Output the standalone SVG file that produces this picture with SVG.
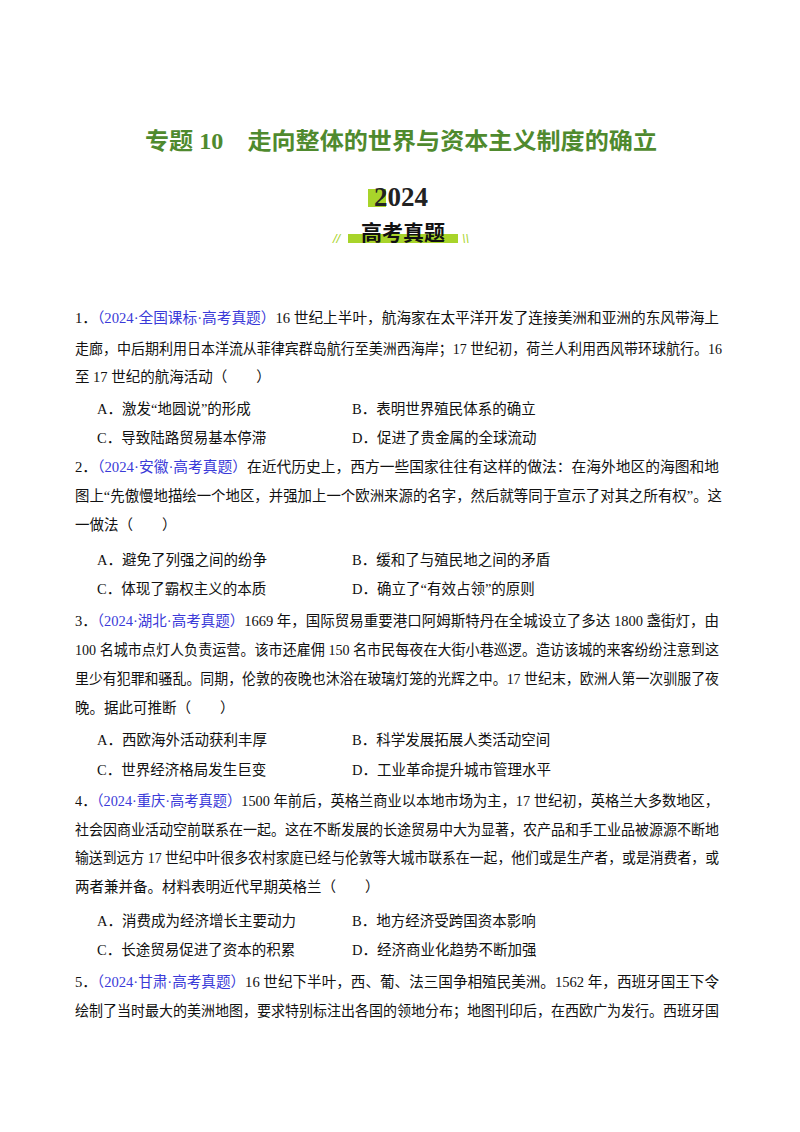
<svg xmlns="http://www.w3.org/2000/svg" width="800" height="1132" viewBox="0 0 800 1132">
<style>
.t{font-family:"Liberation Serif","Noto Sans CJK SC",serif;font-size:14.5px;fill:#111}
.b{fill:#3a3ad8}
.title{font-family:"Liberation Serif","Noto Sans CJK SC",serif;font-size:23px;font-weight:bold;fill:#4f8a2e}
</style>
<rect width="800" height="1132" fill="#fff"/>
<g id="header">
<text class="title" x="401" y="149" text-anchor="middle" textLength="512" lengthAdjust="spacingAndGlyphs">专题 10　走向整体的世界与资本主义制度的确立</text>
<rect x="368" y="189" width="18" height="18" fill="#a8d42a"/>
<text x="401" y="206" text-anchor="middle" font-family="Liberation Serif,serif" font-size="27" font-weight="bold" fill="#222">2024</text>
<rect x="348" y="234" width="110" height="9" fill="#a8d42a"/>
<text x="403" y="240" text-anchor="middle" font-family="Noto Sans CJK SC,sans-serif" font-size="21" font-weight="bold" fill="#111">高考真题</text>
<text x="333" y="243" font-family="Liberation Sans,sans-serif" font-size="13" fill="#a8d42a" font-style="italic">//</text>
<text x="462" y="243" font-family="Liberation Sans,sans-serif" font-size="13" fill="#a8d42a" font-style="italic">\\</text>
</g>
<g id="q1" class="t">
<text x="75" y="323" textLength="644" lengthAdjust="spacingAndGlyphs">1．<tspan class="b">（2024·全国课标·高考真题）</tspan>16 世纪上半叶，航海家在太平洋开发了连接美洲和亚洲的东风带海上</text>
<text x="75" y="354" textLength="647" lengthAdjust="spacingAndGlyphs">走廊，中后期利用日本洋流从菲律宾群岛航行至美洲西海岸；17 世纪初，荷兰人利用西风带环球航行。16</text>
<text x="75" y="382">至 17 世纪的航海活动（　　）</text>
<text x="97" y="414">A．激发“地圆说”的形成</text>
<text x="352" y="414">B．表明世界殖民体系的确立</text>
<text x="97" y="443">C．导致陆路贸易基本停滞</text>
<text x="352" y="443">D．促进了贵金属的全球流动</text>
</g>
<g id="q2" class="t">
<text x="75" y="472" textLength="644" lengthAdjust="spacingAndGlyphs">2．<tspan class="b">（2024·安徽·高考真题）</tspan>在近代历史上，西方一些国家往往有这样的做法：在海外地区的海图和地</text>
<text x="75" y="501" textLength="647" lengthAdjust="spacingAndGlyphs">图上“先傲慢地描绘一个地区，并强加上一个欧洲来源的名字，然后就等同于宣示了对其之所有权”。这</text>
<text x="75" y="530">一做法（　　）</text>
<text x="97" y="565">A．避免了列强之间的纷争</text>
<text x="352" y="565">B．缓和了与殖民地之间的矛盾</text>
<text x="97" y="594">C．体现了霸权主义的本质</text>
<text x="352" y="594">D．确立了“有效占领”的原则</text>
</g>
<g id="q3" class="t">
<text x="75" y="626" textLength="644" lengthAdjust="spacingAndGlyphs">3．<tspan class="b">（2024·湖北·高考真题）</tspan>1669 年，国际贸易重要港口阿姆斯特丹在全城设立了多达 1800 盏街灯，由</text>
<text x="75" y="655" textLength="644" lengthAdjust="spacingAndGlyphs">100 名城市点灯人负责运营。该市还雇佣 150 名市民每夜在大街小巷巡逻。造访该城的来客纷纷注意到这</text>
<text x="75" y="684" textLength="644" lengthAdjust="spacingAndGlyphs">里少有犯罪和骚乱。同期，伦敦的夜晚也沐浴在玻璃灯笼的光辉之中。17 世纪末，欧洲人第一次驯服了夜</text>
<text x="75" y="713">晚。据此可推断（　　）</text>
<text x="97" y="745">A．西欧海外活动获利丰厚</text>
<text x="352" y="745">B．科学发展拓展人类活动空间</text>
<text x="97" y="775">C．世界经济格局发生巨变</text>
<text x="352" y="775">D．工业革命提升城市管理水平</text>
</g>
<g id="q4" class="t">
<text x="75" y="806" textLength="644" lengthAdjust="spacingAndGlyphs">4．<tspan class="b">（2024·重庆·高考真题）</tspan>1500 年前后，英格兰商业以本地市场为主，17 世纪初，英格兰大多数地区，</text>
<text x="75" y="835" textLength="644" lengthAdjust="spacingAndGlyphs">社会因商业活动空前联系在一起。这在不断发展的长途贸易中大为显著，农产品和手工业品被源源不断地</text>
<text x="75" y="863" textLength="644" lengthAdjust="spacingAndGlyphs">输送到远方 17 世纪中叶很多农村家庭已经与伦敦等大城市联系在一起，他们或是生产者，或是消费者，或</text>
<text x="75" y="892">两者兼并备。材料表明近代早期英格兰（　　）</text>
<text x="97" y="926">A．消费成为经济增长主要动力</text>
<text x="352" y="926">B．地方经济受跨国资本影响</text>
<text x="97" y="955">C．长途贸易促进了资本的积累</text>
<text x="352" y="955">D．经济商业化趋势不断加强</text>
</g>
<g id="q5" class="t">
<text x="75" y="987" textLength="644" lengthAdjust="spacingAndGlyphs">5．<tspan class="b">（2024·甘肃·高考真题）</tspan>16 世纪下半叶，西、葡、法三国争相殖民美洲。1562 年，西班牙国王下令</text>
<text x="75" y="1016" textLength="644" lengthAdjust="spacingAndGlyphs">绘制了当时最大的美洲地图，要求特别标注出各国的领地分布；地图刊印后，在西欧广为发行。西班牙国</text>
</g>
</svg>
